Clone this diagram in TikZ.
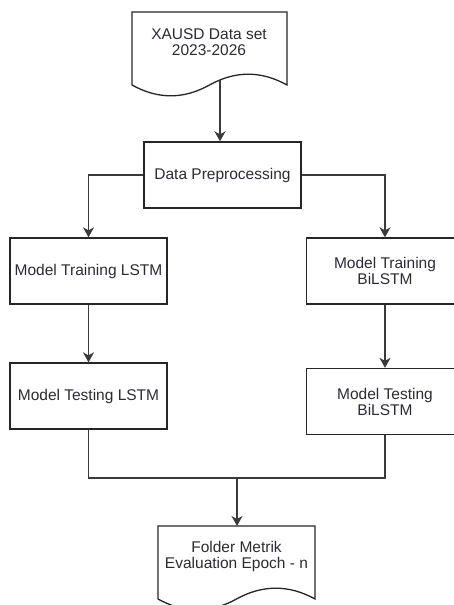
\documentclass[tikz,border=0pt]{standalone}
\usepackage{fontspec}
\setmainfont{Liberation Sans}
\usetikzlibrary{arrows.meta}
\definecolor{txt}{HTML}{2B2B35}
\definecolor{ln}{HTML}{3A3A3A}
\begin{document}
\begin{tikzpicture}[x=1pt,y=-1pt,
  box/.style={draw=black!85, line width=1.3pt, minimum width=157pt, minimum height=66pt,
    inner sep=0pt, align=center, text=txt, font=\fontsize{15.5}{16}\selectfont},
  lbl/.style={align=center, text=txt, inner sep=0pt, font=\fontsize{15.5}{16}\selectfont},
  conn/.style={draw=ln, line width=1.4pt},
  arr/.style={conn, -{Stealth[length=10pt,width=11pt,inset=3pt]}},
  docshape/.style={draw=black!85, line width=1.3pt, fill=white}]
\useasboundingbox (0,0) rectangle (454,605);

% source document
\draw[docshape] (132,85) -- (132,12) -- (287,12) -- (287,85)
  .. controls (261.2,70.6) and (235.3,70.6) .. (209.5,85)
  .. controls (183.7,99.4) and (157.8,99.4) .. (132,85) -- cycle;
\node[lbl] (src) at (209,42) {XAUSD Data set\\2023-2026};
\coordinate (srcout) at (220,80);

% boxes
\node[box] (prep) at (222.5,175) {Data Preprocessing};
\node[box] (trl) at (88.5,271) {Model Training LSTM};
\node[box] (trb) at (385,271) {Model Training\\BiLSTM};
\node[box] (tel) at (88.5,396) {Model Testing LSTM};
\node[box] (teb) at (385,401.5) {Model Testing\\BiLSTM};

% destination document
\draw[docshape] (158,599) -- (158,526) -- (315,526) -- (315,599)
  .. controls (289.2,584.6) and (262.3,584.6) .. (236.5,599)
  .. controls (210.7,613.4) and (183.8,613.4) .. (158,599) -- cycle;
\node[lbl] (dst) at (236.5,556.5) {Folder Metrik\\Evaluation Epoch - n};
\coordinate (dsttop) at (237,526);
\coordinate (join) at (237,478);

% connectors
\draw[arr] (srcout) -- (srcout |- prep.north);
\draw[arr] (prep.west) -| (trl.north);
\draw[arr] (prep.east) -| (trb.north);
\draw[arr] (trl.south) -- (tel.north);
\draw[arr] (trb.south) -- (teb.north);
\draw[conn] (tel.south) |- (join) -| (teb.south);
\draw[arr] (join) -- (dsttop);
\end{tikzpicture}
\end{document}
